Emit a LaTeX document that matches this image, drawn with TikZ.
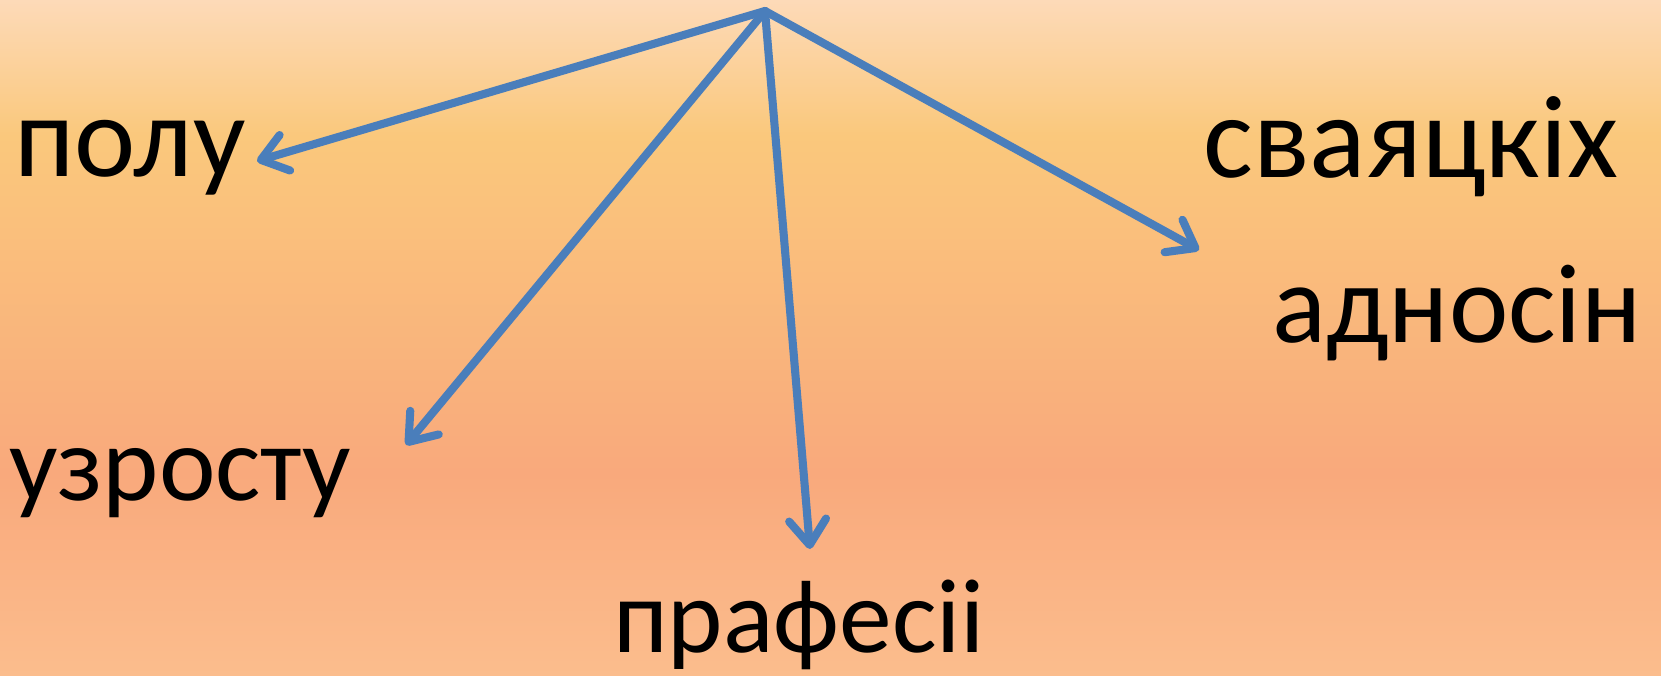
\documentclass[tikz,border=0pt]{standalone}
\usepackage{fontspec}
\setmainfont{Carlito}
\usetikzlibrary{arrows.meta}

\definecolor{bgtop}{HTML}{FDDAB8}
\definecolor{bgsun}{HTML}{FAC87C}
\definecolor{bgmid}{HTML}{F9A97C}
\definecolor{bgbot}{HTML}{FBBD8D}
\definecolor{arrowblue}{HTML}{4A7EBB}

\pgfdeclareverticalshading{slideshade}{100bp}{color(0bp)=(bgbot); color(25bp)=(bgbot); color(40bp)=(bgmid); color(65bp)=(bgsun); color(75bp)=(bgtop); color(100bp)=(bgtop)}

\tikzset{
  word/.style={anchor=base, font=\fontsize{#1}{#1}\selectfont, text=black, inner sep=0pt},
  branch/.style={draw=arrowblue, line width=4.6pt, line cap=round, line join=round,
    -{Straight Barb[length=0.5cm, width=0.74cm, line cap=round, line join=round]}}
}

\begin{document}
\begin{tikzpicture}[x=0.02cm, y=-0.02cm]

\useasboundingbox (0,0) rectangle (1661,676);
\shade[shading=slideshade] (0,0) rectangle (1661,676);

% the point all arrows leave from
\coordinate (top) at (765,11);

\node[word=66pt] (polu) at (130,176) {полу};
\node[word=67pt] (svajackix) at (1411,177) {сваяцкіх};
\node[word=64pt] (adnosin) at (1457,342) {адносін};
\node[word=61pt] (uzrostu) at (180,500) {узросту};
\node[word=60pt] (prafesii) at (799,652) {прафесіі};

\coordinate (polutip) at (257,161);
\coordinate (uzrostutip) at (406,445);
\coordinate (prafesiitip) at (810,549);
\coordinate (svajtip) at (1199,250);

\draw[branch] (top) -- (polutip);
\draw[branch] (top) -- (uzrostutip);
\draw[branch] (top) -- (prafesiitip);
\draw[branch] (top) -- (svajtip);

\end{tikzpicture}
\end{document}
